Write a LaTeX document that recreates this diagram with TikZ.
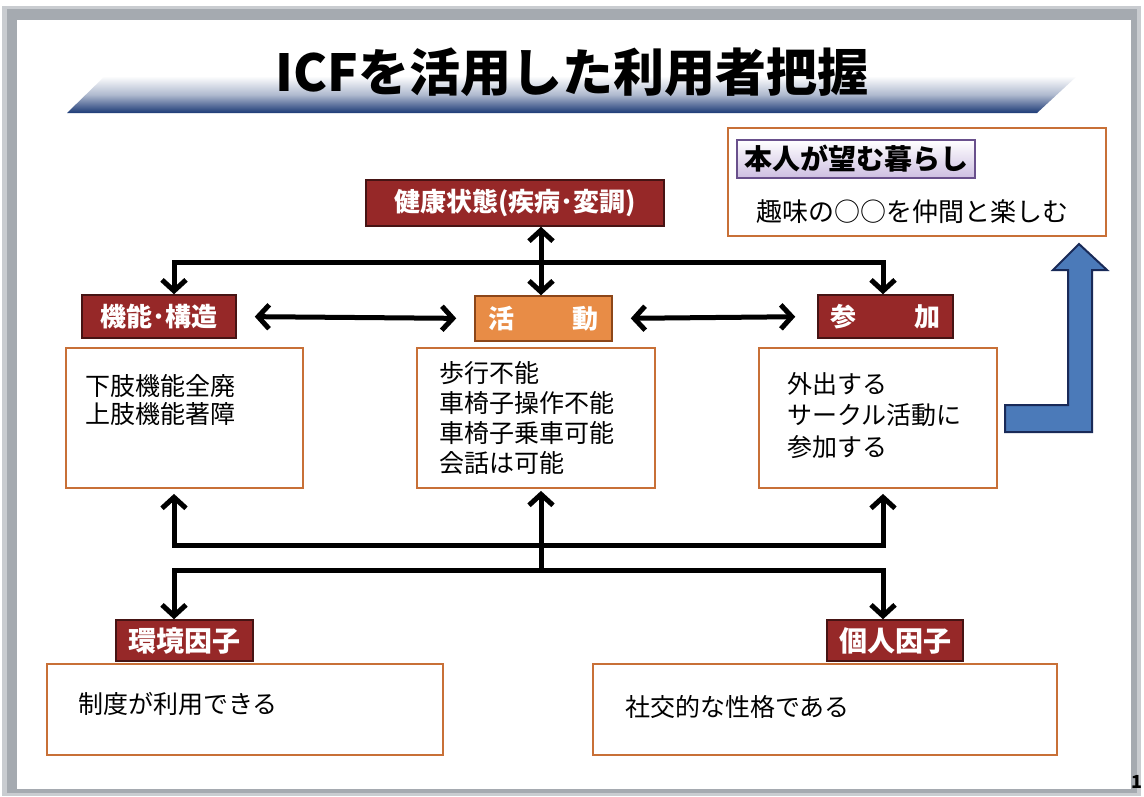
\documentclass[tikz,border=0pt]{standalone}
\usepackage{fontspec}
\setmainfont{Noto Sans CJK JP}
\usetikzlibrary{arrows.meta,calc}
\definecolor{hdrred}{RGB}{150,40,40}
\definecolor{hdrborder}{RGB}{70,20,20}
\definecolor{actorange}{RGB}{232,140,70}
\definecolor{actborder}{RGB}{140,70,25}
\definecolor{boxborder}{RGB}{200,112,55}
\definecolor{lavfill}{RGB}{205,190,225}
\definecolor{lavborder}{RGB}{105,80,140}
\definecolor{arrowblue}{RGB}{75,122,185}
\definecolor{arrowdark}{RGB}{25,42,88}
\definecolor{bannerblue}{RGB}{28,58,118}
\definecolor{framegray}{RGB}{165,170,176}
\begin{document}
\begin{tikzpicture}[x=1pt,y=-1pt,
  hdr/.style={draw=hdrborder, line width=1.5pt, fill=hdrred, text=white,
    font=\bfseries\fontsize{26}{26}\selectfont, inner sep=0pt},
  actbox/.style={draw=actborder, line width=1.5pt, fill=actorange, text=white,
    font=\bfseries\fontsize{26}{26}\selectfont, inner sep=0pt},
  cbox/.style={draw=boxborder, line width=1.8pt, fill=white, inner sep=0pt},
  ctext/.style={anchor=north west, align=left, inner sep=0pt,
    font=\fontsize{25}{30}\selectfont},
  arr/.style={line width=5pt, black,
    arrows={-Straight Barb[length=11pt,width=24pt]}},
  darr/.style={line width=5pt, black,
    arrows={Straight Barb[length=11pt,width=24pt]-Straight Barb[length=11pt,width=24pt]}}
]
\useasboundingbox (0,0) rectangle (1144,796);
% slide frame
\fill[white] (0,0) rectangle (1144,796);
\fill[framegray!60] (2,6) rectangle (1141,796);
\fill[framegray] (7,9) rectangle (1137,793);
\fill[white] (17,20) rectangle (1131,789);

% title banner
\shade[top color=white, bottom color=bannerblue, middle color=bannerblue!35]
  (67,113) -- (105,76) -- (1077,76) -- (1037,113) -- cycle;
\node (title) at (572,72) {\bfseries\fontsize{51}{51}\selectfont ICFを活用した利用者把握};

% wish box
\node[cbox, minimum width=378pt, minimum height=108pt] (wish) at (917,182) {};
\node[draw=lavborder, line width=1.5pt, top color=white, bottom color=lavfill,
  minimum width=238pt, minimum height=38pt, inner sep=0pt,
  font=\bfseries\fontsize{28}{28}\selectfont] (wishlbl) at (856,159) {本人が望む暮らし};
\node[anchor=west, inner sep=0pt, font=\fontsize{26}{26}\selectfont] (wishtxt) at (756,212) {趣味の○○を仲間と楽しむ};

% header boxes
\node[hdr, minimum width=298pt, minimum height=46pt] (health) at (515,203) {健康状態(疾病･変調)};
\node[hdr, minimum width=154pt, minimum height=43pt] (func) at (159,316.5) {機能･構造};
\node[actbox, minimum width=137pt, minimum height=45pt] (act) at (543.5,318.5) {\makebox[110pt]{活\hfill 動}};
\node[hdr, minimum width=135pt, minimum height=43pt] (part) at (885.5,316.5) {\makebox[110pt]{参\hfill 加}};

% content boxes
\node[cbox, minimum width=237pt, minimum height=140pt] (lbox) at (184.5,418) {};
\node[cbox, minimum width=238pt, minimum height=140pt] (mbox) at (536,418) {};
\node[cbox, minimum width=238pt, minimum height=140pt] (rbox) at (878,418) {};
\node[ctext, font=\fontsize{25}{28}\selectfont] (ltxt) at (85,374) {下肢機能全廃\\上肢機能著障};
\node[ctext, font=\fontsize{25}{30}\selectfont] (mtxt) at (439,361) {歩行不能\\車椅子操作不能\\車椅子乗車可能\\会話は可能};
\node[ctext, font=\fontsize{25}{31.5}\selectfont] (rtxt) at (787,372) {外出する\\サークル活動に\\参加する};

% bottom boxes
\node[cbox, minimum width=396pt, minimum height=91pt] (ebox) at (245,709.5) {};
\node[cbox, minimum width=464pt, minimum height=91pt] (pbox) at (825,709.5) {};
\node[anchor=west, inner sep=0pt, font=\fontsize{25}{25}\selectfont] (etxt) at (78,704) {制度が利用できる};
\node[anchor=west, inner sep=0pt, font=\fontsize{25}{25}\selectfont] (ptxt) at (625,707) {社交的な性格である};
\node[hdr, minimum width=137pt, minimum height=41pt, font=\bfseries\fontsize{28}{28}\selectfont] (env) at (184.5,640.5) {環境因子};
\node[hdr, minimum width=136pt, minimum height=41pt, font=\bfseries\fontsize{28}{28}\selectfont] (pers) at (895,640.5) {個人因子};

% guide coordinates
\coordinate (xL) at (174,0);
\coordinate (xM) at (541,0);
\coordinate (xR) at (883,0);
\coordinate (yTop) at (0,262);
\coordinate (yB1) at (0,545);
\coordinate (yB2) at (0,570);

% connectors
\draw[darr] (xM |- health.south) -- (xM |- act.north);
\draw[darr] (xL |- func.north) -- (xL |- yTop) -- (xR |- yTop) -- (xR |- part.north);
\draw[darr, shorten <=18pt, shorten >=18pt] (func.east) -- (act.west);
\draw[darr, shorten <=18pt, shorten >=22pt] (act.east) -- (part.west);
\draw[darr, shorten <=5pt, shorten >=5pt] (xL |- lbox.south) -- (xL |- yB1) -- (xR |- yB1) -- (xR |- rbox.south);
\draw[arr, shorten >=2pt] (xM |- yB2) -- (xM |- mbox.south);
\draw[darr] (xL |- env.north) -- (xL |- yB2) -- (xR |- yB2) -- (xR |- pers.north);

% blue bent arrow
\draw[fill=arrowblue, draw=arrowdark, line width=2pt, line join=miter]
  (1005,405) -- (1068,405) -- (1068,270) -- (1053,270) -- (1079,244)
  -- (1107,270) -- (1092,270) -- (1092,432) -- (1005,432) -- cycle;

% page number
\node[anchor=east, inner sep=0pt, font=\bfseries\fontsize{18}{18}\selectfont] (pg) at (1143,782) {1};
\end{tikzpicture}
\end{document}
